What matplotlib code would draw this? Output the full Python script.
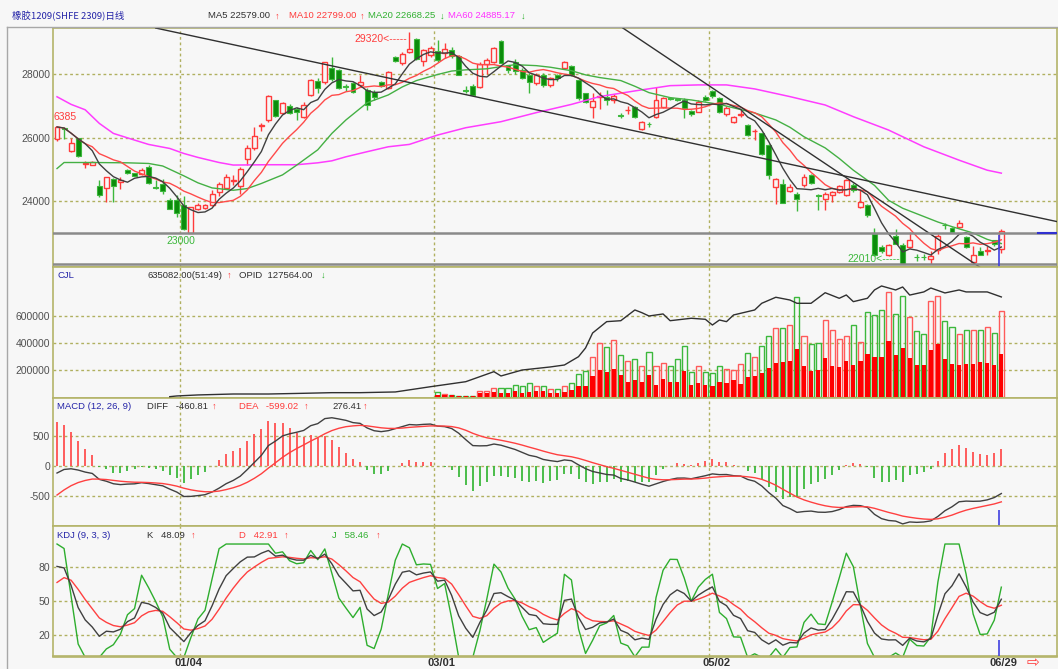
import numpy as np
import matplotlib
matplotlib.use("Agg")
import matplotlib.pyplot as plt
from matplotlib.lines import Line2D

plt.rcParams['font.family'] = ['Liberation Sans', 'DejaVu Sans']

# ---------------- data ----------------
opens = [25970, 26300, 25580, 25980, 25170, 25150, 24470, 24420, 24700, 24600,
         24990, 24890, 24870, 25080, 24440, 24530, 24030, 24030, 23870, 23000,
         23750, 23790, 23890, 24290, 24420, 24640, 24480, 25330, 25680, 26380,
         26560, 27190, 26790, 27000, 26900, 26660, 27350, 27800, 27750, 28190,
         28140, 27620, 27720, 27660, 27500, 27450, 27750, 27580, 28540, 28350,
         28700, 29100, 28420, 28610, 28720, 28680, 28770, 28560, 27490, 27640,
         27610, 28320, 28380, 29030, 28290, 28400, 28140, 27980, 27720, 27980,
         27660, 27970, 28200, 28270, 27820, 27400, 26980, 27280, 27270, 27190,
         26720, 26870, 26980, 26290, 26430, 26660, 26980, 27260, 27230, 27190,
         26840, 26820, 27290, 27460, 27240, 26740, 26480, 26720, 26400, 26200,
         26140, 25770, 24450, 24530, 24330, 24240, 24500, 24820, 24200, 24060,
         24190, 24300, 24190, 24510, 23820, 23870, 22980, 22560, 22300, 22900,
         22610, 22560, 22250, 22250, 22190, 22450, 23250, 23150, 23190, 22870,
         22090, 22420, 22440, 22770, 22500]
highs = [26385, 26350, 25980, 26000, 25270, 25280, 24660, 24770, 24720, 24770,
         25000, 24900, 25040, 25150, 24660, 24700, 24100, 24210, 24180, 23830,
         23930, 23900, 24370, 24610, 24850, 24820, 25080, 25770, 26350, 26450,
         27350, 27200, 27130, 27050, 26980, 27130, 27850, 27870, 28400, 28530,
         28160, 27690, 27750, 27980, 27560, 27500, 27780, 28100, 28570, 28700,
         29320, 29130, 28800, 28900, 29080, 28980, 28850, 28600, 27640, 27700,
         28400, 28500, 28850, 29080, 28300, 28480, 28180, 28030, 28030, 28030,
         27920, 28010, 28420, 28300, 27860, 27420, 27400, 27450, 27500, 27370,
         26770, 26990, 27000, 26520, 26500, 27610, 27290, 27290, 27260, 27240,
         26870, 27180, 27330, 27500, 27280, 27000, 26700, 26870, 26420, 26290,
         26160, 25790, 24720, 24700, 24550, 24280, 24850, 24850, 24220, 24280,
         24330, 24500, 24700, 24560, 24350, 23900, 23160, 22620, 22650, 23130,
         22680, 23030, 22330, 22330, 22430, 22980, 23330, 23180, 23400, 22900,
         22600, 22560, 22600, 22790, 23130]
lows = [25900, 25950, 25550, 25380, 25050, 25150, 24140, 23980, 23980, 24400,
        24850, 24780, 24820, 24550, 24400, 24230, 23760, 23500, 23100, 23000,
        23720, 23760, 23850, 24180, 24400, 24500, 24240, 25140, 25610, 26200,
        26500, 26650, 26750, 26740, 26560, 26620, 27300, 27420, 27700, 27790,
        27530, 27470, 27400, 27610, 26870, 27200, 27600, 27550, 28400, 28300,
        28660, 28450, 28270, 28550, 28400, 28500, 28500, 27970, 27400, 27320,
        27580, 28000, 28350, 28340, 28050, 28000, 27850, 27400, 27650, 27600,
        27600, 27800, 28160, 27950, 27200, 27100, 26610, 26920, 27030, 27100,
        26610, 26750, 26620, 26250, 26350, 26610, 26950, 27200, 27150, 26610,
        26700, 26800, 27150, 27260, 26780, 26700, 26450, 26660, 26050, 25920,
        25450, 24700, 23920, 23930, 24300, 23680, 24450, 24550, 23720, 23720,
        23980, 24250, 24150, 24300, 23800, 23520, 22280, 22380, 22280, 22640,
        22010, 22540, 22130, 22150, 22020, 22350, 23120, 22990, 23150, 22530,
        22040, 22300, 22300, 22600, 22380]
closes = [26340, 26270, 25820, 25430, 25200, 25240, 24190, 24750, 24490, 24680,
          24890, 24810, 24970, 24560, 24420, 24320, 23770, 23630, 23130, 23810,
          23880, 23870, 24220, 24530, 24770, 24680, 25000, 25680, 26060, 26410,
          27320, 26690, 27100, 26770, 26820, 27030, 27820, 27560, 28380, 27850,
          27560, 27590, 27450, 27770, 27030, 27290, 27640, 28080, 28430, 28630,
          28800, 28480, 28770, 28840, 28450, 28790, 28560, 27980, 27470, 27350,
          28320, 28450, 28820, 28350, 28140, 28100, 27870, 27770, 27980, 27660,
          27870, 27890, 28400, 27980, 27240, 27140, 27160, 27300, 27200, 27320,
          26680, 26880, 26660, 26500, 26420, 27190, 27240, 27230, 27180, 26930,
          26740, 27140, 27190, 27300, 26820, 26950, 26660, 26750, 26080, 26220,
          25500, 24820, 24690, 23960, 24450, 24060, 24750, 24590, 24180, 24220,
          24290, 24470, 24660, 24350, 23980, 23560, 22300, 22420, 22610, 22660,
          22030, 22770, 22230, 22240, 22270, 22900, 23240, 23030, 23330, 22560,
          22320, 22310, 22460, 22660, 23050]

# volume (thousand lots), first 54 sessions show no visible volume
volume_k = [0] * 54 + [
    35, 22, 15, 10, 10, 10, 42, 42, 67, 67,
    67, 91, 79, 104, 84, 79, 59, 59, 79, 104,
    173, 190, 296, 400, 368, 425, 314, 264, 284, 227,
    331, 227, 252, 227, 281, 375, 183, 232, 183, 178,
    227, 207, 202, 247, 326, 296, 375, 449, 511, 511,
    536, 740, 449, 393, 400, 568, 499, 430, 449, 536,
    407, 627, 610, 642, 780, 617, 750, 593, 486, 467, 709,
    750, 565, 518, 467, 499, 499, 499, 518, 474, 635]
inner_k = [0] * 54 + [
    12, 12, 12, 8, 8, 8, 30, 30, 35, 30,
    30, 42, 30, 35, 42, 42, 30, 30, 35, 54,
    79, 79, 158, 198, 185, 210, 160, 109, 128, 109,
    165, 91, 133, 109, 109, 195, 91, 104, 91, 84,
    109, 104, 128, 96, 148, 158, 178, 215, 252, 257,
    269, 358, 227, 195, 198, 289, 227, 222, 264, 240,
    264, 321, 296, 296, 412, 314, 363, 289, 235, 240, 351,
    395, 284, 247, 235, 247, 247, 259, 252, 240, 318]

# open interest (thousand lots)
oi_idx = [16, 17, 20, 25, 30, 35, 39, 43, 48, 53, 58, 62, 63, 66, 70, 72, 74, 75, 76, 78,
          80, 82, 83, 84, 86, 87, 90, 92, 93, 94, 95, 96, 99, 100, 102, 104, 105, 107, 109, 111,
          112, 113, 115, 116, 117, 119, 120, 121, 123, 124, 126, 128, 129, 132, 134]
oi_val = [0.4, 1.3, 2.6, 3.8, 3.8, 4.7, 5.5, 5.5, 6.4, 13.1, 19.5, 32.3, 26.8, 34.4, 38.3, 40.8, 51.4, 62.5, 81.6, 96.1,
          97.3, 111, 107.5, 103.3, 105.9, 97.3, 100.4, 99.1, 91.8, 98.2, 96.1, 104.6, 111, 119.5, 127.2, 123.7, 119.5, 119.5, 133, 125.9,
          130.1, 121.6, 125.9, 136.5, 141.6, 136.5, 140.3, 130, 134, 139, 132.7, 136.5, 134, 134, 127.6]

ma20_idx = [0, 1, 5, 10, 13, 15, 18, 20, 22, 25, 27, 29, 32, 34, 37, 39, 41, 44, 47, 49,
            51, 54, 56, 58, 61, 63, 65, 68, 70, 73, 75, 77, 80, 82, 84, 87, 90, 94, 99, 102,
            104, 106, 109, 111, 113, 116, 118, 120, 123, 125, 127, 130, 132, 134]
ma20_val = [25030, 25220, 25220, 25210, 25190, 25110, 24800, 24580, 24420, 24346, 24400, 24560, 24830, 25136, 25620, 26136, 26560, 27100, 27347, 27600,
            27800, 27990, 28100, 28137, 28170, 28240, 28300, 28270, 28220, 28110, 27979, 27895, 27800, 27620, 27420, 27263, 27190, 27050, 26780, 26560,
            26330, 26031, 25680, 25347, 24978, 24500, 24030, 23780, 23520, 23346, 23200, 23000, 22800, 22668]
ma60_idx = [0, 2, 4, 6, 8, 11, 13, 16, 18, 20, 23, 25, 30, 34, 37, 39, 41, 44, 47, 50,
            54, 58, 63, 68, 73, 77, 82, 87, 91, 95, 99, 104, 109, 113, 118, 123, 128, 132, 134]
ma60_val = [27290, 27050, 26880, 26452, 26136, 25926, 25789, 25662, 25504, 25380, 25220, 25140, 25150, 25150, 25210, 25273, 25400, 25560, 25715, 25790,
            26084, 26315, 26505, 26790, 27050, 27295, 27474, 27640, 27663, 27663, 27537, 27295, 27031, 26663, 26242, 25715, 25294, 24978, 24885]

macd_seed = (25500.0, 25700.0, -580.0)   # prior EMA12, EMA26, DEA
kdj_seed = (75.0, 59.0)                  # prior K, D

trend1_x = [14.0, 142.0]
trend1_y = [29454, 23355]
trend2_x = [80.3, 130.9]
trend2_y = [29454, 21933]
support_levels = [23000, 22010]

grid_idx = [17.5, 53.5, 92.5]
date_labels = ['01/04', '03/01', '05/02', '06/29']
date_label_idx = [18.6, 54.5, 93.5, 134.3]

price_ticks = [24000, 26000, 28000]
vol_ticks = [200000, 400000, 600000]
macd_ticks = [-500, 0, 500]
kdj_ticks = [20, 50, 80]

# ---------------- indicators ----------------
o = np.array(opens, float); h = np.array(highs, float)
l = np.array(lows, float); c = np.array(closes, float)
n = len(c)
x = np.arange(n)

def sma(v, w):
    out = np.empty(len(v))
    for i in range(len(v)):
        out[i] = v[max(0, i - w + 1):i + 1].mean()
    return out

ma5 = sma(c, 5)
ma10 = sma(c, 10)

e12, e26, dea = macd_seed
diff_l, dea_l = [], []
for v in c:
    e12 += 2 / 13 * (v - e12)
    e26 += 2 / 27 * (v - e26)
    d = e12 - e26
    dea += 0.2 * (d - dea)
    diff_l.append(d); dea_l.append(dea)
diff = np.array(diff_l); dea_a = np.array(dea_l)
macd = 2 * (diff - dea_a)

kk, dd = kdj_seed
K, D = [], []
for i in range(n):
    lo = l[max(0, i - 8):i + 1].min(); hi = h[max(0, i - 8):i + 1].max()
    rsv = (c[i] - lo) / (hi - lo) * 100 if hi > lo else 50
    kk = 2 / 3 * kk + rsv / 3
    dd = 2 / 3 * dd + kk / 3
    K.append(kk); D.append(dd)
K = np.array(K); D = np.array(D)
J = np.clip(3 * K - 2 * D, 0, 100)

# ---------------- figure ----------------
W, H = 1058, 669
BG = '#f7f7f7'
OLIVE = '#b4b46a'
GRIDC = '#b0b060'
RED = '#ff3b3b'
GREEN = '#0c8c0c'
LGREEN = '#3cb83c'
fig = plt.figure(figsize=(W / 100, H / 100), dpi=100, facecolor=BG)

def axes_px(x0, y0, x1, y1):
    a = fig.add_axes([x0 / W, 1 - y1 / H, (x1 - x0) / W, (y1 - y0) / H])
    a.set_facecolor(BG)
    for s in a.spines.values():
        s.set_color(OLIVE); s.set_linewidth(1.2)
    a.set_xlim(-0.57, 141.9)
    a.tick_params(axis='y', length=0, pad=2, labelsize=7.5, labelcolor='#505050')
    a.tick_params(axis='x', length=0, labelbottom=False)
    for gx in grid_idx:
        a.axvline(gx, color=GRIDC, lw=1, ls=(0, (2, 2)), zorder=1)
    return a

ax_p = axes_px(53, 28, 1057, 267)
ax_v = axes_px(53, 267, 1057, 398)
ax_m = axes_px(53, 398, 1057, 526)
ax_k = axes_px(53, 526, 1057, 656)

def hgrid(a, ticks):
    a.set_yticks(ticks)
    for t in ticks:
        a.axhline(t, color=GRIDC, lw=1, ls=(0, (2, 2)), zorder=1)

# ---- price panel ----
ax_p.set_ylim(21930, 29455)
hgrid(ax_p, price_ticks)
up = c >= o
body_w = 0.7
for i in range(n):
    ax_p.vlines(x[i], l[i], h[i], color=RED if up[i] else LGREEN, lw=1, zorder=2)
    bot = min(o[i], c[i]); ht = max(abs(c[i] - o[i]), 18)
    if up[i]:
        ax_p.bar(x[i], ht, bottom=bot, width=body_w, facecolor=BG, edgecolor=RED, lw=1, zorder=3)
    else:
        ax_p.bar(x[i], ht, bottom=bot, width=body_w, facecolor=GREEN, edgecolor=LGREEN, lw=0.8, zorder=3)

ax_p.plot(ma60_idx, ma60_val, color='#ff3cff', lw=1.1, zorder=4)
ax_p.plot(ma20_idx, ma20_val, color='#44b044', lw=1, zorder=4)
ax_p.plot(x, ma10, color='#ff4a4a', lw=1, zorder=4)
ax_p.plot(x, ma5, color='#404040', lw=1, zorder=4)
ax_p.plot(trend1_x, trend1_y, color='#303030', lw=1, zorder=4)
ax_p.plot(trend2_x, trend2_y, color='#303030', lw=1, zorder=4)
for lv in support_levels:
    ax_p.axhline(lv, color='#8a8a8a', lw=1.8, zorder=4)
ax_p.plot([139.2, 141.9], [23000, 23000], color='#3030d0', lw=1.5, zorder=5)
ax_p.vlines(x[-1] - 0.4, 21930, 22950, color='#4040e0', lw=1.2, zorder=5)

ax_p.text(-0.45, 26660, '6385', color=RED, fontsize=7.5, ha='left', va='center', zorder=6)
ax_p.text(x[18] - 0.4, 22760, '23000', color='#3cb83c', fontsize=7.5, ha='center', va='center', zorder=6)
ax_p.text(x[50] - 0.3, 29120, '29320<-----', color=RED, fontsize=7.5, ha='right', va='center', zorder=6)
ax_p.text(x[120] - 0.3, 22190, '22010<-----', color='#3cb83c', fontsize=7.5, ha='right', va='center', zorder=6)

# ---- volume panel ----
vol = np.array(volume_k, float) * 1000
inner = np.array(inner_k, float) * 1000
ax_v.set_ylim(-7400, 963000)
hgrid(ax_v, vol_ticks)
for i in range(n):
    if vol[i] <= 0:
        continue
    col = '#ff5a5a' if up[i] else '#3cb83c'
    ax_v.bar(x[i], vol[i], width=0.72, facecolor='none', edgecolor=col, lw=1, zorder=2)
    ax_v.bar(x[i], inner[i], width=0.6, facecolor='#ff0000', edgecolor='none', zorder=3)
ax_v2 = ax_v.twinx()
ax_v2.set_ylim(-1.3, 165.8)
ax_v2.set_xlim(-0.57, 141.9)
ax_v2.axis('off')
ax_v2.plot(oi_idx, oi_val, color='#303030', lw=1, zorder=4)

# ---- MACD panel ----
ax_m.set_ylim(-1008, 1142)
hgrid(ax_m, macd_ticks)
pos = macd >= 0
ax_m.vlines(x[pos], 0, macd[pos], color='#ff5050', lw=1.3, zorder=2)
ax_m.vlines(x[~pos], 0, macd[~pos], color='#3cb83c', lw=1.3, zorder=2)
ax_m.plot(x, diff, color='#404040', lw=1, zorder=3)
ax_m.plot(x, dea_a, color='#ff4040', lw=1, zorder=3)
ax_m.vlines(x[-1] - 0.4, -1008, -740, color='#4040e0', lw=1.2, zorder=5)

# ---- KDJ panel ----
ax_k.set_ylim(1.2, 115.9)
hgrid(ax_k, kdj_ticks)
ax_k.plot(x, J, color='#2eae2e', lw=1, zorder=2)
ax_k.plot(x, D, color='#ff4040', lw=1, zorder=3)
ax_k.plot(x, K, color='#404040', lw=1, zorder=4)
ax_k.vlines(x[-1] - 0.4, 1.2, 15, color='#4040e0', lw=1.2, zorder=5)

for a in (ax_p, ax_v, ax_m, ax_k):
    a.set_yticklabels([str(t) for t in a.get_yticks().astype(int)])

# ---- header texts (placed left to right, never overlapping) ----
renderer = fig.canvas.get_renderer()
NAVY = '#2424a8'
FS = 6.8

def header_row(py, items):
    last_end = 0
    for px, s, color, fam in items:
        px = max(px, last_end + 2)
        kw = {'family': fam} if fam else {}
        t = fig.text(px / W, 1 - py / H, s, color=color, fontsize=FS, ha='left', va='center', **kw)
        bb = t.get_window_extent(renderer)
        last_end = bb.x1

CJK = ['Noto Sans CJK SC', 'DejaVu Sans']
header_row(16, [
    (12, '橡胶1209(SHFE 2309)日线', NAVY, CJK),
    (208, 'MA5 22579.00', '#303030', None),
    (275, '↑', RED, None),
    (289, 'MA10 22799.00', RED, None),
    (360, '↑', RED, None),
    (368, 'MA20 22668.25', '#30b030', None),
    (440, '↓', '#30b030', None),
    (448, 'MA60 24885.17', '#ff30ff', None),
    (521, '↓', '#30b030', None),
])
header_row(275, [
    (57, 'CJL', NAVY, None),
    (147, '635082.00(51:49)', '#303030', None),
    (227, '↑', RED, None),
    (239, 'OPID  127564.00', '#303030', None),
    (321, '↓', '#30b030', None),
])
header_row(406, [
    (57, 'MACD (12, 26, 9)', NAVY, None),
    (147, 'DIFF   -460.81', '#303030', None),
    (212, '↑', RED, None),
    (239, 'DEA   -599.02', RED, None),
    (304, '↑', RED, None),
    (332, '276.41', '#303030', None),
    (363, '↑', RED, None),
])
header_row(535, [
    (57, 'KDJ (9, 3, 3)', NAVY, None),
    (147, 'K   48.09', '#303030', None),
    (191, '↑', RED, None),
    (239, 'D   42.91', RED, None),
    (284, '↑', RED, None),
    (332, 'J   58.46', '#30b030', None),
    (376, '↑', RED, None),
])

for lab, xi in zip(date_labels, date_label_idx):
    px = 57 + 7.05 * xi
    fig.text(px / W, 1 - 663 / H, lab, color='#303030', fontsize=8, fontweight='bold', ha='center', va='center')
fig.text(1033 / W, 1 - 663 / H, '⇨', color=RED, fontsize=11, ha='center', va='center', family=['DejaVu Sans'])

fig.add_artist(Line2D([7 / W, 7 / W], [1 - 27 / H, 0], color='#a8a8a8', lw=1))
fig.add_artist(Line2D([7 / W, 1], [1 - 27 / H, 1 - 27 / H], color='#a8a8a8', lw=1))
fig.add_artist(Line2D([53 / W, 1057 / W], [1 - 657 / H, 1 - 657 / H], color=OLIVE, lw=1.2))

fig.savefig('out.png', dpi=100, facecolor=BG)
